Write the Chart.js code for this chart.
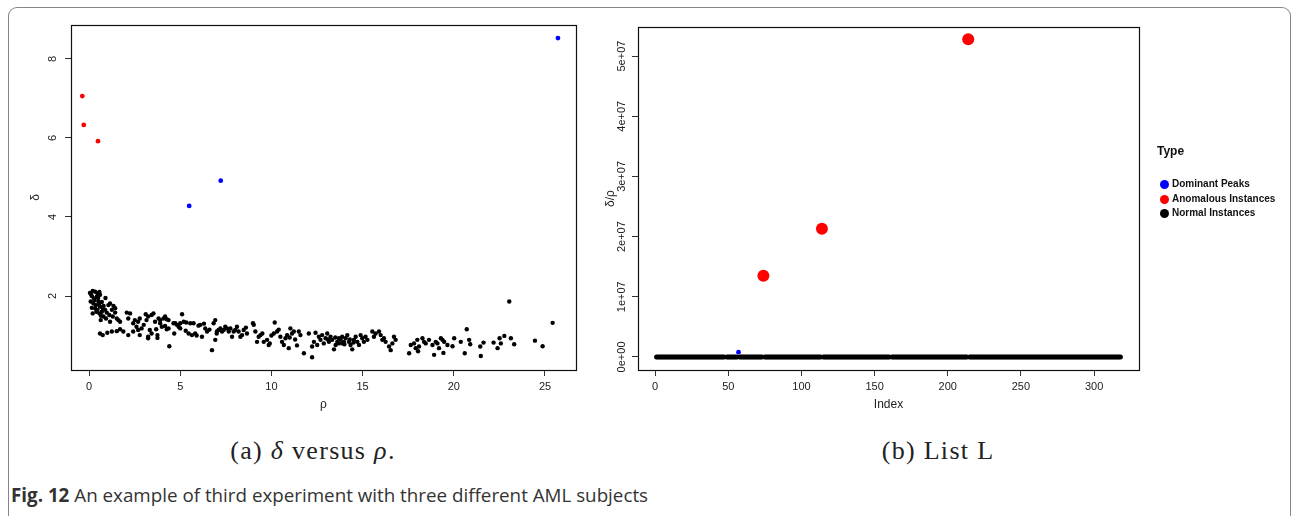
<!DOCTYPE html>
<html>
<head>
<meta charset="utf-8">
<script src="https://cdn.jsdelivr.net/npm/chart.js@4.4.0/dist/chart.umd.min.js"></script>
<style>
body{margin:0;background:#fff;width:1292px;height:516px;overflow:hidden;position:relative;font-family:"Liberation Sans",Arial,sans-serif;}
#frame{position:absolute;left:8px;top:7px;width:1283px;height:530px;border:1.5px solid #858585;border-bottom:none;border-radius:9px 9px 0 0;box-sizing:border-box;}
#wrapA{position:absolute;left:0;top:0;}
#wrapB{position:absolute;left:580px;top:0;}
.cap{position:absolute;top:436px;font-family:"Liberation Serif","Times New Roman",serif;font-size:26px;letter-spacing:1.3px;color:#222;white-space:nowrap;transform:translateX(-50%);}
.leg{position:absolute;font-size:10px;font-weight:bold;color:#111;white-space:nowrap;}
.dot{position:absolute;width:9px;height:9px;border-radius:50%;}
#fig{position:absolute;left:11px;top:482px;font-family:"Open Sans","Noto Sans",sans-serif;font-size:18.8px;color:#333;white-space:nowrap;}
</style>
</head>
<body>
<div id="frame"></div>
<div id="wrapA"><canvas id="chartA" width="600" height="430"></canvas></div>
<div id="wrapB"><canvas id="chartB" width="580" height="430"></canvas></div>

<div class="leg" style="left:1157px;top:144px;font-size:12px;">Type</div>
<div class="dot" style="left:1160px;top:180px;background:#0000ff"></div>
<div class="leg" style="left:1172px;top:178px;">Dominant Peaks</div>
<div class="dot" style="left:1160px;top:195px;background:#ff0000"></div>
<div class="leg" style="left:1172px;top:193px;">Anomalous Instances</div>
<div class="dot" style="left:1160px;top:209px;background:#000000"></div>
<div class="leg" style="left:1172px;top:207px;">Normal Instances</div>

<div class="cap" style="left:313px;">(a) <i>δ</i> versus <i>ρ</i>.</div>
<div class="cap" style="left:938px;">(b) List L</div>
<div id="fig"><b>Fig. 12</b> An example of third experiment with three different AML subjects</div>

<script>
// (a) delta versus rho
const normalRho = [
  0.05,0.2,0.33,0.46,0.57,0.15,0.27,0.42,0.6,0.09,0.24,0.38,0.51,0.33,0.46,0.6,0.75,0.2,0.57,0.7,
  0.88,0.97,1.06,1.15,1.34,1.25,1.43,1.11,1.3,0.79,0.64,0.93,1.15,1.52,1.61,1.7,1.43,
  0.1,0.3,0.5,0.7,0.55,0.4,0.65,0.8,0.15,0.9,
  0.6,0.75,1.0,1.25,1.52,1.7,1.88,2.15,2.42,2.6,2.69,2.88,3.0,2.78,3.24,3.33,3.43,3.68,3.75,3.9,
  3.99,4.17,4.26,4.36,4.63,4.67,4.82,4.91,5.0,
  2.07,2.25,2.15,2.42,2.51,2.69,2.78,3.11,3.24,3.15,3.43,3.53,3.62,3.81,3.9,4.08,4.17,4.26,4.36,3.75,3.24,
  4.4,
  4.73,5.0,5.1,5.19,5.33,5.46,5.55,5.64,5.73,
  5.3,5.9,6.0,6.3,6.6,7.0,8.2,8.6,9.5,10.0,10.4,11.3,11.4,11.0,
  5.82,6.1,6.19,6.37,6.47,6.74,6.83,6.92,6.92,7.01,7.1,7.2,7.29,7.38,7.47,7.56,7.66,7.75,7.84,7.93,
  8.02,8.11,8.3,8.39,8.48,8.66,8.99,9.03,9.12,9.21,9.3,9.4,9.58,9.76,9.85,9.91,10.13,10.18,10.31,10.49,
  10.58,10.68,10.77,10.86,10.95,11.04,11.13,11.23,11.5,
  11.59,11.78,12.05,12.23,12.42,12.33,12.23,12.51,12.6,12.69,12.78,12.87,12.97,13.06,13.15,13.24,13.33,13.43,13.52,13.61,
  13.7,13.79,13.88,13.97,14.07,14.16,14.25,14.34,14.43,14.52,14.62,14.71,14.8,14.89,14.98,15.07,15.16,15.26,15.53,15.62,
  15.71,15.9,15.99,16.08,16.17,16.26,16.45,16.54,16.63,16.72,16.81,17.55,17.64,17.82,17.91,18.0,18.04,18.09,18.28,18.37,
  18.46,18.64,18.83,18.92,19.01,19.1,19.19,19.29,19.38,19.43,19.47,19.65,19.93,20.02,20.38,20.6,20.71,20.84,20.9,21.45,
  21.48,21.63,22.18,22.4,22.51,22.58,22.77,23.04,23.13,23.31,24.45,24.87,25.42,
  13.1,13.5,13.9,14.3,14.0,13.7,14.5
];
const normalDelta = [
  2.08,2.13,2.11,2.07,2.1,2.0,1.94,1.98,2.03,1.86,1.81,1.77,1.86,1.69,1.65,1.73,1.69,1.56,1.56,1.6,
  1.65,1.58,1.77,1.81,1.75,1.65,1.69,1.52,1.48,1.48,1.39,1.43,1.35,1.43,1.39,1.35,1.58,
  2.05,1.9,1.95,1.85,1.8,1.6,1.5,1.75,1.7,1.95,
  1.05,1.01,1.07,1.1,1.11,1.16,1.1,1.01,1.1,1.22,1.14,1.18,1.27,1.01,0.97,1.14,1.05,1.16,1.01,1.31,
  1.22,1.24,1.16,1.18,1.31,1.05,1.27,1.22,1.31,
  1.58,1.56,1.43,1.31,1.39,1.35,1.43,1.54,1.48,1.39,1.52,1.56,1.35,1.43,1.39,1.43,1.48,1.41,1.39,0.94,0.93,
  0.73,
  1.31,1.18,1.54,1.35,1.33,1.05,1.31,1.01,1.31,
  1.12,1.0,1.25,1.3,1.15,1.05,1.1,1.2,1.05,1.0,1.15,0.9,0.75,0.95,
  1.05,1.27,0.97,1.18,1.1,0.63,1.31,1.39,0.89,1.1,1.14,1.18,1.1,1.14,1.22,1.18,1.1,1.18,0.97,1.1,
  1.14,1.22,0.97,1.01,1.14,1.05,1.31,1.27,1.1,0.84,0.97,1.01,0.84,0.89,0.76,0.8,1.05,1.33,1.1,0.97,
  0.84,0.76,0.93,1.01,0.68,1.18,1.05,1.1,1.1,
  1.01,0.55,1.05,0.45,1.07,0.84,0.72,0.76,0.97,0.89,1.01,0.8,0.93,1.05,0.84,0.97,0.89,0.65,0.76,0.84,
  0.93,0.89,0.97,0.84,0.93,1.01,0.84,0.76,0.65,0.89,0.97,0.84,0.76,1.01,0.93,0.84,0.97,0.89,1.1,0.97,
  1.05,1.1,1.01,0.89,0.93,0.84,0.72,0.63,0.8,0.97,0.89,0.55,0.76,0.8,0.68,0.89,0.6,0.72,0.93,0.84,
  0.8,0.89,0.76,0.51,0.84,0.8,0.68,0.93,0.89,0.56,0.84,0.76,0.73,0.93,0.84,0.55,1.16,0.89,0.78,0.72,
  0.48,0.82,0.82,0.68,0.93,0.8,0.99,1.86,0.93,0.78,0.87,0.73,1.32,
  0.9,0.95,0.8,0.9,0.78,0.8,0.82
];
const anomalousRho = [-0.37, -0.29, 0.49];
const anomalousDelta = [7.06, 6.33, 5.92];
const peakRho = [5.49, 7.22, 25.71];
const peakDelta = [4.28, 4.92, 8.53];
const rhoTicks = [0, 5, 10, 15, 20, 25];
const deltaTicks = [2, 4, 6, 8];

// (b) list L: delta / rho by index
const listLength = 318;
const listGaps = [48, 57, 74, 114, 161, 214];
const normalRatio = 0;
const peakIndex = [57];
const peakRatio = [0.08e7];
const anomalousIndex = [74, 114, 214];
const anomalousRatio = [1.35e7, 2.13e7, 5.28e7];
const indexTicks = [0, 50, 100, 150, 200, 250, 300];
const ratioTicks = [0, 1e7, 2e7, 3e7, 4e7, 5e7];
const ratioTickLabels = ['0e+00', '1e+07', '2e+07', '3e+07', '4e+07', '5e+07'];

const FONT = '"Liberation Sans", Arial, sans-serif';
const pts = (xs, ys) => xs.map((x, i) => ({x: x, y: ys[i]}));

const normalList = [];
for (let i = 1; i <= listLength; i++) {
  if (listGaps.indexOf(i) < 0) normalList.push({x: i, y: normalRatio});
}

const boxPlugin = {
  id: 'box',
  afterDraw(chart) {
    const a = chart.chartArea, ctx = chart.ctx;
    ctx.save();
    ctx.strokeStyle = '#111';
    ctx.lineWidth = 1.2;
    ctx.strokeRect(Math.round(a.left) + 0.5, Math.round(a.top) + 0.5,
      Math.round(a.right - a.left), Math.round(a.bottom - a.top));
    ctx.restore();
  }
};

function xAxis(min, max, tickVals, title) {
  return {
    type: 'linear', min: min, max: max,
    afterBuildTicks: s => { s.ticks = tickVals.map(v => ({value: v})); },
    afterFit: s => { s.height = 60; },
    border: {display: false},
    grid: {drawOnChartArea: false, tickLength: 6, tickColor: '#333', tickWidth: 1},
    ticks: {font: {size: 11, family: FONT}, color: '#222', padding: 4, maxRotation: 0},
    title: {display: true, text: title, font: {size: 12, family: FONT}, color: '#222', padding: {top: 0, bottom: 18}}
  };
}

function yAxis(min, max, tickVals, title, width, pad, titlePad, labels) {
  return {
    type: 'linear', min: min, max: max,
    afterBuildTicks: s => { s.ticks = tickVals.map(v => ({value: v})); },
    afterFit: s => { s.width = width; },
    border: {display: false},
    grid: {drawOnChartArea: false, tickLength: 6, tickColor: '#333', tickWidth: 1},
    ticks: {
      font: {size: 11, family: FONT}, color: '#222', padding: pad,
      minRotation: 90, maxRotation: 90, crossAlign: 'center',
      callback: v => labels ? labels[tickVals.indexOf(v)] : v
    },
    title: {display: true, text: title, font: {size: 12, family: FONT}, color: '#222', padding: {top: titlePad, bottom: 0}}
  };
}

const common = {
  responsive: false,
  animation: false,
  events: [],
  plugins: {legend: {display: false}, tooltip: {enabled: false}}
};

new Chart(document.getElementById('chartA'), {
  type: 'scatter',
  data: {
    datasets: [
      {label: 'Normal Instances', data: pts(normalRho, normalDelta), backgroundColor: '#000', pointRadius: 2.2, pointBorderWidth: 0},
      {label: 'Anomalous Instances', data: pts(anomalousRho, anomalousDelta), backgroundColor: '#ff0000', pointRadius: 2.4, pointBorderWidth: 0},
      {label: 'Dominant Peaks', data: pts(peakRho, peakDelta), backgroundColor: '#0000ff', pointRadius: 2.4, pointBorderWidth: 0}
    ]
  },
  options: Object.assign({}, common, {
    layout: {padding: {left: 11, top: 25, right: 24, bottom: 0}},
    scales: {
      x: xAxis(-0.99, 26.7, rhoTicks, 'ρ'),
      y: yAxis(0.127, 8.86, deltaTicks, 'δ', 60, 9, 17, null)
    }
  }),
  plugins: [boxPlugin]
});

new Chart(document.getElementById('chartB'), {
  type: 'scatter',
  data: {
    datasets: [
      {label: 'Normal Instances', data: normalList, backgroundColor: '#000', pointRadius: 2.5, pointBorderWidth: 0},
      {label: 'Dominant Peaks', data: pts(peakIndex, peakRatio), backgroundColor: '#0000ff', pointRadius: 2.4, pointBorderWidth: 0},
      {label: 'Anomalous Instances', data: pts(anomalousIndex, anomalousRatio), backgroundColor: '#ff0000', pointRadius: 6, pointBorderWidth: 0}
    ]
  },
  options: Object.assign({}, common, {
    layout: {padding: {left: 10, top: 27, right: 21, bottom: 0}},
    scales: {
      x: xAxis(-11.7, 330.7, indexTicks, 'Index'),
      y: yAxis(-0.217e7, 5.483e7, ratioTicks, 'δ/ρ', 48, -5.5, 13, ratioTickLabels)
    }
  }),
  plugins: [boxPlugin]
});
</script>
</body>
</html>
